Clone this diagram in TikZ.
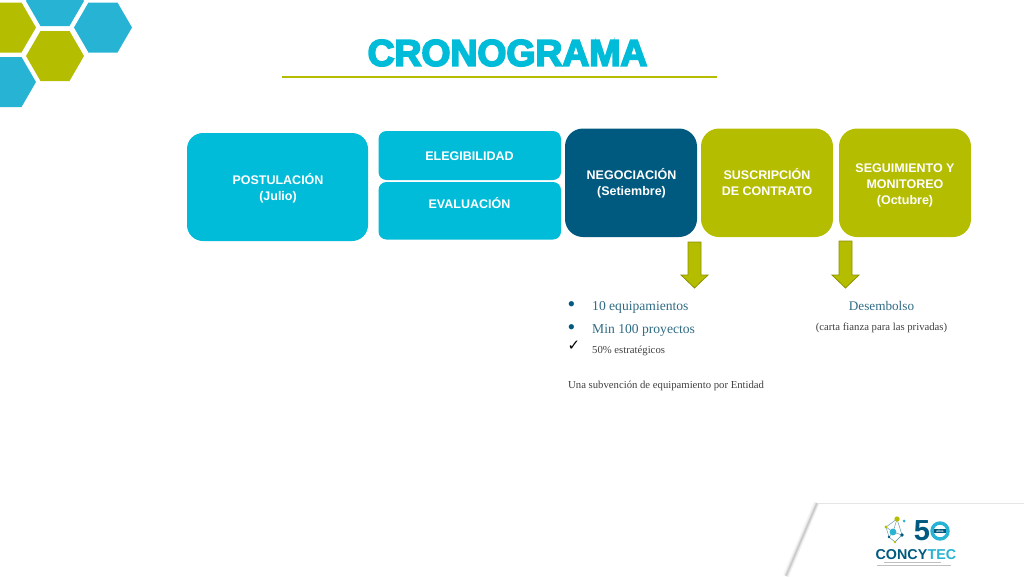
\documentclass[tikz,border=0pt]{standalone}
\usepackage{fontspec}
\setmainfont{Liberation Serif}
\setsansfont{Liberation Sans}
\newfontfamily\titlefont[BoldFeatures={FakeBold=4.5}]{Liberation Sans}
\newfontfamily\symbolfont{DejaVu Sans}
\definecolor{cyanbox}{HTML}{00BCD8}
\definecolor{hexblue}{HTML}{27B3D3}
\definecolor{navybox}{HTML}{005A80}
\definecolor{olivebox}{HTML}{B5BD00}
\definecolor{olivedark}{HTML}{8C9200}
\definecolor{bodytext}{HTML}{2F6B84}
\definecolor{graytext}{HTML}{404040}
\tikzset{
    phase/.style={rounded corners=#1,inner sep=0pt},
    phase/.default=18pt,
    phaselabel/.style={inner sep=0pt,font=\sffamily\bfseries\fontsize{12.5}{16}\selectfont,text=white,align=center},
    downarrow/.style={fill=olivebox,draw=olivedark,line width=0.8pt},
    listtext/.style={anchor=west,inner sep=0pt,font=\fontsize{13.6}{16}\selectfont,text=bodytext},
    smalltext/.style={anchor=west,inner sep=0pt,font=\fontsize{10.7}{12}\selectfont,text=graytext},
    listbullet/.style={text=navybox,inner sep=0pt,font=\fontsize{22}{22}\selectfont}
}
\newcommand{\hexat}[3]{\fill[#1] (#2-29,#3) -- (#2-14.5,#3-25) -- (#2+14.5,#3-25) -- (#2+29,#3) -- (#2+14.5,#3+25) -- (#2-14.5,#3+25) -- cycle;}
\begin{document}
\begin{tikzpicture}[x=1pt,y=-1pt]
    \useasboundingbox (0,0) rectangle (1024,576);
    \begin{scope}
        \clip (0,0) rectangle (1024,576);
        \hexat{olivebox}{7}{27.5}
        \hexat{hexblue}{55}{1}
        \hexat{hexblue}{103}{27.5}
        \hexat{olivebox}{55}{56}
        \hexat{hexblue}{7}{82}
        % panel behind the logo
        \foreach \w/\o in {7/0.025,5/0.04,3/0.06,1.5/0.1}
            \draw[black,opacity=\o,line width=\w pt] (786,576) -- (817,503);
        \fill[white] (819.5,503.5) -- (789.5,576) -- (1024,576) -- (1024,503.5) -- cycle;
        \draw[black!10,line width=0.5pt] (818,503) -- (1024,503);
    \end{scope}
    % title
    \node[inner sep=0pt,text=cyanbox,font=\titlefont\bfseries\fontsize{37.3}{40}\selectfont] (title) at (507.5,53) {CRONOGRAMA};
    \coordinate (ruleL) at (282,77);
    \coordinate (ruleR) at (717,77);
    \draw[olivebox,line width=2.6pt] (ruleL) -- (ruleR);
    % phases
    \node[phase=16pt,fill=cyanbox,minimum width=181pt,minimum height=108pt] (postulacion) at (277.5,187) {};
    \node[phase=8pt,fill=cyanbox,minimum width=182.5pt,minimum height=49pt] (elegibilidad) at (469.75,155.5) {};
    \node[phase=8pt,fill=cyanbox,minimum width=182.5pt,minimum height=57.5pt] (evaluacion) at (469.75,210.75) {};
    \node[phase,fill=navybox,minimum width=132pt,minimum height=108.5pt] (negociacion) at (631,182.75) {};
    \node[phase,fill=olivebox,minimum width=132pt,minimum height=108.5pt] (suscripcion) at (767,182.75) {};
    \node[phase,fill=olivebox,minimum width=132pt,minimum height=108.5pt] (seguimiento) at (905,182.75) {};
    \node[phaselabel] (postulacionlabel) at (278,188) {POSTULACIÓN\\(Julio)};
    \node[phaselabel] (elegibilidadlabel) at (469.5,156) {ELEGIBILIDAD};
    \node[phaselabel] (evaluacionlabel) at (469.5,203.5) {EVALUACIÓN};
    \node[phaselabel] (negociacionlabel) at (631.5,183) {NEGOCIACIÓN\\(Setiembre)};
    \node[phaselabel] (suscripcionlabel) at (767,182.5) {SUSCRIPCIÓN\\DE CONTRATO};
    \node[phaselabel] (seguimientolabel) at (905,185) {SEGUIMIENTO Y\\MONITOREO\\(Octubre)};
    % arrows
    \draw[downarrow] (688,242) -- (701,242) -- (701,275) -- (708,275) -- (694.5,288) -- (681,275) -- (688,275) -- cycle;
    \draw[downarrow] (839,241) -- (852,241) -- (852,275) -- (859,275) -- (845.5,288) -- (832,275) -- (839,275) -- cycle;
    % list
    \node[listbullet] (bulletA) at (571.5,306.5) {•};
    \node[listbullet] (bulletB) at (571.5,329.5) {•};
    \node[inner sep=0pt,font=\symbolfont\fontsize{15}{15}\selectfont] (check) at (574,346) {✓};
    \node[listtext] (equipos) at (592,307) {10 equipamientos};
    \node[listtext] (proyectos) at (592,330) {Min 100 proyectos};
    \node[smalltext] (estrategicos) at (592,351) {50\% estratégicos};
    \node[smalltext] (subvencion) at (568,386) {Una subvención de equipamiento por Entidad};
    \node[inner sep=0pt,text=bodytext,font=\fontsize{13.2}{16}\selectfont] (desembolso) at (881.5,306) {Desembolso};
    \node[inner sep=0pt,text=graytext,font=\fontsize{10.7}{12}\selectfont] (carta) at (881.5,328) {(carta fianza para las privadas)};
    % logo
    \coordinate (netA) at (897,519);
    \coordinate (netB) at (886,527);
    \coordinate (netC) at (902,535);
    \coordinate (netD) at (895,542);
    \coordinate (netE) at (889,537);
    \coordinate (netF) at (893,532);
    \draw[navybox!70,line width=0.4pt] (netA) -- (netB) -- (netE) -- (netD) -- (netC) -- (netA) (netB) -- (netF) -- (netC) (netA) -- (netF) -- (netE);
    \fill[olivebox] (netA) circle (2.6pt);
    \fill[hexblue] (904,521) circle (1.5pt);
    \fill[olivebox] (netB) circle (1.6pt);
    \fill[hexblue] (netF) circle (3.4pt);
    \fill[navybox] (netC) circle (1.8pt);
    \fill[olivebox] (netD) circle (1.3pt);
    \fill[navybox] (netE) circle (1.3pt);
    \node[inner sep=0pt,text=navybox,font=\sffamily\bfseries\fontsize{29}{30}\selectfont] (cinco) at (922,531) {5};
    \draw[hexblue,line width=3.4pt] (940,531) circle (8pt);
    \fill[navybox] (934,529) rectangle (946,533);
    \node[inner sep=0pt,text=white,font=\sffamily\bfseries\fontsize{3.2}{3}\selectfont] (anos) at (940,531) {años};
    \node[inner sep=0pt,text=navybox,font=\sffamily\bfseries\fontsize{14.3}{15}\selectfont,anchor=east] (concy) at (927.5,554.5) {CONCY};
    \node[inner sep=0pt,anchor=west,text=hexblue,font=\sffamily\bfseries\fontsize{14.3}{15}\selectfont] (tec) at (concy.east) {TEC};
    \fill[black!25] (884,562) rectangle (941,563);
    \fill[black!25] (877,565) rectangle (951,566);
\end{tikzpicture}
\end{document}
